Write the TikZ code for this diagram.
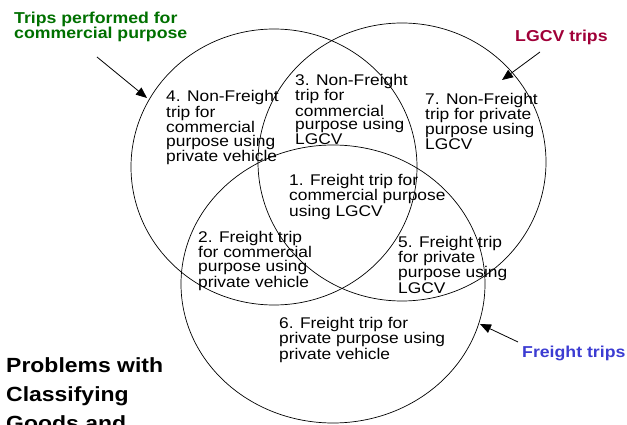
\documentclass[tikz,border=0pt]{standalone}
\usepackage{fontspec}
\setmainfont[FakeStretch=1.12]{Liberation Sans}
\usetikzlibrary{arrows.meta}
\definecolor{comm}{RGB}{0, 112, 0}
\definecolor{lgcv}{RGB}{160, 0, 56}
\definecolor{frt}{RGB}{60, 60, 210}

\begin{document}
\begin{tikzpicture}[x=1pt, y=-1pt,
    region/.style={align=left, inner sep=0, anchor=base west, font=\fontsize{15.5}{13.8}\selectfont},
    setname/.style={align=left, inner sep=0, anchor=base west, font=\fontsize{15.8}{14.2}\selectfont\bfseries},
    pointer/.style={line width=0.8pt, -{Triangle[length=11pt, width=9pt]}}]
      \useasboundingbox (0, 0) rectangle (627, 425);
      \draw[line width=0.7pt] (274, 167) ellipse [x radius=143pt, y radius=138pt];
      \draw[line width=0.7pt] (402, 162) ellipse [x radius=144pt, y radius=139pt];
      \draw[line width=0.7pt] (333, 284) ellipse [x radius=152pt, y radius=139pt];
      % anchors sit on the last line's baseline
      \node(r4)[region] at (166, 162) {4. Non-Freight\\trip for\\commercial\\purpose using\\private vehicle};
      \node(r3)[region] at (295, 145) {3. Non-Freight\\trip for\\commercial\\purpose using\\LGCV};
      \node(r7)[region] at (425, 150) {7. Non-Freight\\trip for private\\purpose using\\LGCV};
      \node(r1)[region] at (289, 216) {1. Freight trip for\\commercial purpose\\using LGCV};
      \node(r2)[region] at (198, 287) {2. Freight trip\\for commercial\\purpose using\\private vehicle};
      \node(r5)[region] at (398, 293) {5. Freight trip\\for private\\purpose using\\LGCV};
      \node(r6)[region] at (279, 359) {6. Freight trip for\\private purpose using\\private vehicle};
      \node(commlbl)[setname, text=comm] at (14, 39) {Trips performed for\\commercial purpose};
      \node(lgcvlbl)[setname, text=lgcv] at (515, 42) {LGCV trips};
      \node(frtlbl)[setname, text=frt] at (522, 357) {Freight trips};
      \node(title)[align=left, inner sep=0, anchor=base west, font=\fontsize{20.5}{29}\selectfont\bfseries] at (6, 430) {Problems with\\Classifying\\Goods and};
      \coordinate(commtail) at (97, 57);
      \coordinate(commtip) at (147, 98);
      \coordinate(lgcvtail) at (540, 52);
      \coordinate(lgcvtip) at (502, 80);
      \coordinate(frttail) at (518, 342);
      \coordinate(frttip) at (480, 324);
      \draw[pointer] (commtail) -- (commtip);
      \draw[pointer] (lgcvtail) -- (lgcvtip);
      \draw[pointer] (frttail) -- (frttip);
    \end{tikzpicture}
\end{document}
